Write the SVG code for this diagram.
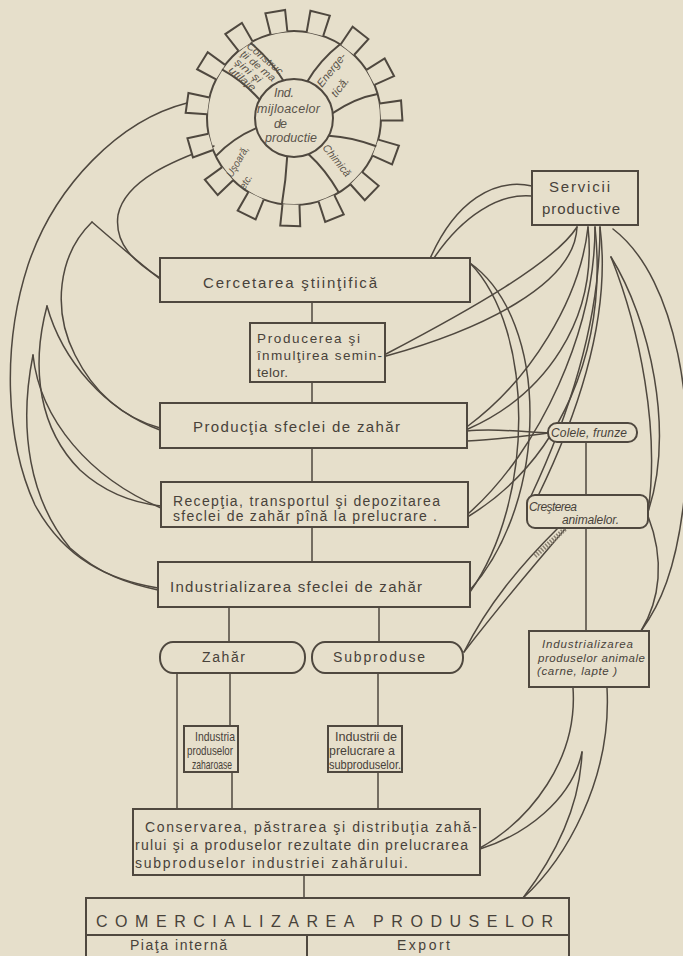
<svg xmlns="http://www.w3.org/2000/svg" xmlns:xlink="http://www.w3.org/1999/xlink" width="683" height="956" viewBox="0 0 683 956">
<style>
.ln{fill:none;stroke:#4f483f;stroke-width:1.5;stroke-linecap:round;stroke-linejoin:round}
.bx{fill:#e6dfcb;stroke:#4f483f;stroke-width:2}
.gr{fill:none;stroke:#4f483f;stroke-width:2}
.t{font-family:"Liberation Sans","DejaVu Sans",sans-serif;fill:#48423a}
.i{font-style:italic}
.g{font-family:"Liberation Sans","DejaVu Sans",sans-serif;font-style:italic;fill:#5a534a}
</style>
<defs>
<path id="tooth" d="M380.6,109.5 L402,108 L402,128 L380.6,126.5" fill="#e6dfcb" stroke="#4f483f" stroke-width="2"/>
</defs>
<rect width="683" height="956" fill="#e6dfcb"/>

<g id="connectors">
<path class="ln" d="M312,302 V323 M312,382 V403 M312,448 V482 M312,527 V562 M229,607 V642 M379,607 V642 M177,673 V809 M230,673 V726 M232,772 V809 M378,673 V726 M378,772 V809 M304,875 V898 M586,442 V495 M586,528 V631"/>
<path class="ln" d="M187,103 C120,120 55,185 28,265 C2,345 5,440 35,505 C65,560 110,580 158,588"/>
<path class="ln" d="M214,146 C175,160 125,180 118,215 C114,245 135,262 160,278"/>
<path class="ln" d="M92,222 C115,242 138,262 160,279"/>
<path class="ln" d="M92,222 C58,255 52,310 75,355 C95,395 125,418 160,428"/>
<path class="ln" d="M47,306 C62,360 105,410 160,430"/>
<path class="ln" d="M47,306 C30,370 40,430 80,470 C105,493 135,503 161,506"/>
<path class="ln" d="M33,355 C40,420 90,478 161,508"/>
<path class="ln" d="M33,355 C18,430 30,500 70,548 C100,575 130,584 158,590"/>
<path class="ln" d="M532,186 C495,178 455,200 429,261"/>
<path class="ln" d="M532,196 C500,193 462,215 432,261"/>
<path class="ln" d="M577,227 C555,262 470,310 386,354"/>
<path class="ln" d="M577,227 C575,285 480,330 386,356"/>
<path class="ln" d="M588,227 C580,300 530,380 468,426"/>
<path class="ln" d="M588,227 C598,320 545,395 468,429"/>
<path class="ln" d="M595,227 C595,330 540,450 469,513"/>
<path class="ln" d="M595,227 C608,350 560,460 469,516"/>
<path class="ln" d="M600,227 C612,320 575,420 538,496"/>
<path class="ln" d="M600,227 C600,330 562,430 531,496"/>
<path class="ln" d="M470,263 C550,320 550,500 470,590"/>
<path class="ln" d="M470,263 C535,330 535,500 470,592"/>
<path class="ln" d="M467,431 C495,428 525,432 549,433"/>
<path class="ln" d="M467,441 C495,440 525,436 549,433"/>
<path class="ln" d="M613,229 C680,280 695,420 684,500 C676,570 660,605 641,631"/>
<path class="ln" d="M611,257 C650,320 675,430 648,512"/>
<path class="ln" d="M611,257 C640,330 660,430 648,512"/>
<path class="ln" d="M648,516 C665,560 660,600 641,631"/>
<path class="ln" d="M464,652 C495,612 528,572 566,528"/>
<path class="ln" d="M464,652 C488,604 520,566 558,528"/>
<path d="M565,529 L535,556" fill="none" stroke="#8a8172" stroke-width="5" stroke-dasharray="1.5 1.5"/>
<path class="ln" d="M573,688 C578,760 530,820 480,848"/>
<path class="ln" d="M582,752 C572,800 525,835 480,849"/>
<path class="ln" d="M582,752 C580,810 552,860 523,898"/>
<path class="ln" d="M607,688 C612,780 565,860 523,898"/>
</g>

<g id="gear">
<circle cx="294" cy="118" r="87" class="gr"/>
<circle cx="294" cy="118" r="39" class="gr"/>
<use xlink:href="#tooth" transform="rotate(-100 294 118)"/>
<use xlink:href="#tooth" transform="rotate(-76 294 118)"/>
<use xlink:href="#tooth" transform="rotate(-52 294 118)"/>
<use xlink:href="#tooth" transform="rotate(-28 294 118)"/>
<use xlink:href="#tooth" transform="rotate(-4 294 118)"/>
<use xlink:href="#tooth" transform="rotate(20 294 118)"/>
<use xlink:href="#tooth" transform="rotate(44 294 118)"/>
<use xlink:href="#tooth" transform="rotate(68 294 118)"/>
<use xlink:href="#tooth" transform="rotate(92 294 118)"/>
<use xlink:href="#tooth" transform="rotate(116 294 118)"/>
<use xlink:href="#tooth" transform="rotate(140 294 118)"/>
<use xlink:href="#tooth" transform="rotate(164 294 118)"/>
<use xlink:href="#tooth" transform="rotate(188 294 118)"/>
<use xlink:href="#tooth" transform="rotate(212 294 118)"/>
<use xlink:href="#tooth" transform="rotate(236 294 118)"/>
<path class="gr" d="M283.3,80.5 Q270,59 250.5,42.7 M259.6,99.7 Q243,81 221.9,69.4 M307.3,81.4 Q320,60 340.1,44.2 M332.7,113.2 Q355,98 377.6,94 M328.7,135.7 Q352,137 376.3,146.3 M308.6,154.2 Q326,170 338.8,192.6 M256.3,128.1 Q233,138 215.8,156.1 M287.2,156.4 Q286,180 281.9,204.2"/>
<text class="g" font-size="12.5" x="274" y="97" textLength="20">Ind.</text>
<text class="g" font-size="12.5" x="257" y="113" textLength="63">mijloacelor</text>
<text class="g" font-size="12.5" x="274" y="128" textLength="13">de</text>
<text class="g" font-size="12.5" x="265" y="142" textLength="52">productie</text>
<text class="g" font-size="10" transform="translate(246,47) rotate(40)" textLength="44" lengthAdjust="spacingAndGlyphs">Construc</text>
<text class="g" font-size="10" transform="translate(240,55) rotate(40)" textLength="42" lengthAdjust="spacingAndGlyphs">ţii de ma</text>
<text class="g" font-size="10" transform="translate(234,63) rotate(40)" textLength="32" lengthAdjust="spacingAndGlyphs">şini şi</text>
<text class="g" font-size="10" transform="translate(228,71) rotate(40)" textLength="32" lengthAdjust="spacingAndGlyphs">utilaje</text>
<text class="g" font-size="11" transform="translate(322,88) rotate(-52)" textLength="40" lengthAdjust="spacingAndGlyphs">Energe-</text>
<text class="g" font-size="11" transform="translate(336,98) rotate(-52)" textLength="22" lengthAdjust="spacingAndGlyphs">tică.</text>
<text class="g" font-size="11" transform="translate(322,148) rotate(51)" textLength="38" lengthAdjust="spacingAndGlyphs">Chimică</text>
<text class="g" font-size="10.5" transform="translate(232,178) rotate(-60)" textLength="34" lengthAdjust="spacingAndGlyphs">Uşoară,</text>
<text class="g" font-size="10.5" transform="translate(245,190) rotate(-60)" textLength="15" lengthAdjust="spacingAndGlyphs">etc.</text>
</g>

<g id="servicii">
<rect class="bx" x="532" y="171" width="106" height="54"/>
<text class="t" font-size="15" x="549" y="192" textLength="61">Servicii</text>
<text class="t" font-size="15" x="542" y="214" textLength="78">productive</text>
</g>

<g id="cercetarea">
<rect class="bx" x="160" y="258" width="310" height="44"/>
<text class="t" font-size="15" x="203" y="288" textLength="174">Cercetarea ştiinţifică</text>
</g>

<g id="producerea">
<rect class="bx" x="250" y="323" width="135" height="59"/>
<text class="t" font-size="13.5" x="257" y="343" textLength="103">Producerea şi</text>
<text class="t" font-size="13.5" x="257" y="360" textLength="125">înmulţirea semin-</text>
<text class="t" font-size="13.5" x="257" y="377" textLength="31">telor.</text>
</g>

<g id="productia">
<rect class="bx" x="160" y="403" width="307" height="45"/>
<text class="t" font-size="15" x="193" y="432" textLength="207">Producţia sfeclei de zahăr</text>
</g>

<g id="receptia">
<rect class="bx" x="161" y="482" width="307" height="45"/>
<text class="t" font-size="14" x="173" y="506" textLength="267">Recepţia, transportul şi depozitarea</text>
<text class="t" font-size="14" x="173" y="521" textLength="264">sfeclei de zahăr pînă la prelucrare .</text>
</g>

<g id="industrializarea">
<rect class="bx" x="158" y="562" width="312" height="45"/>
<text class="t" font-size="15" x="170" y="592" textLength="252">Industrializarea sfeclei de zahăr</text>
</g>

<g id="zahar">
<rect class="bx" x="160" y="642" width="145" height="31" rx="13" ry="15"/>
<text class="t" font-size="14" x="202" y="662" textLength="43">Zahăr</text>
</g>

<g id="subproduse">
<rect class="bx" x="312" y="642" width="151" height="31" rx="13" ry="15"/>
<text class="t" font-size="14" x="333" y="662" textLength="92">Subproduse</text>
</g>

<g id="industria-zaharoase">
<rect class="bx" x="184" y="726" width="54" height="46"/>
<text class="t" font-size="13" x="195" y="741" textLength="40" lengthAdjust="spacingAndGlyphs">Industria</text>
<text class="t" font-size="13" x="187" y="755" textLength="46" lengthAdjust="spacingAndGlyphs">produselor</text>
<text class="t" font-size="13" x="192" y="769" textLength="40" lengthAdjust="spacingAndGlyphs">zaharoase</text>
</g>

<g id="industrii-subproduse">
<rect class="bx" x="328" y="726" width="74" height="46"/>
<text class="t" font-size="13" x="335" y="741" textLength="62" lengthAdjust="spacingAndGlyphs">Industrii de</text>
<text class="t" font-size="13" x="329" y="755" textLength="66" lengthAdjust="spacingAndGlyphs">prelucrare a</text>
<text class="t" font-size="13" x="329" y="769" textLength="72" lengthAdjust="spacingAndGlyphs">subproduselor.</text>
</g>

<g id="conservarea">
<rect class="bx" x="133" y="809" width="347" height="66"/>
<text class="t" font-size="14" x="145" y="832" textLength="332">Conservarea, păstrarea şi distribuţia zahă-</text>
<text class="t" font-size="14" x="135" y="850" textLength="333">rului şi a produselor rezultate din prelucrarea</text>
<text class="t" font-size="14" x="135" y="868" textLength="273">subproduselor industriei zahărului.</text>
</g>

<g id="comercializarea">
<rect class="bx" x="86" y="898" width="483" height="62"/>
<path class="gr" d="M86,935 H569 M307,935 V958"/>
<text class="t" font-size="16" x="96" y="927" textLength="457">COMERCIALIZAREA PRODUSELOR</text>
<text class="t" font-size="14" x="130" y="950" textLength="97">Piaţa internă</text>
<text class="t" font-size="14" x="397" y="950" textLength="53">Export</text>
</g>

<g id="colele">
<rect class="bx" x="548" y="423" width="89" height="19" rx="9" ry="9"/>
<text class="t i" font-size="12" x="551" y="437" textLength="76">Colele, frunze</text>
</g>

<g id="cresterea">
<rect class="bx" x="527" y="495" width="121" height="33" rx="8" ry="8"/>
<text class="t i" font-size="12" x="529" y="511" textLength="48">Creşterea</text>
<text class="t i" font-size="12" x="562" y="524" textLength="57">animalelor.</text>
</g>

<g id="industrializarea-animale">
<rect class="bx" x="529" y="631" width="120" height="56"/>
<text class="t i" font-size="11.5" x="542" y="648" textLength="91">Industrializarea</text>
<text class="t i" font-size="11.5" x="538" y="662" textLength="107">produselor animale</text>
<text class="t i" font-size="11.5" x="537" y="675" textLength="80">(carne, lapte )</text>
</g>
</svg>
